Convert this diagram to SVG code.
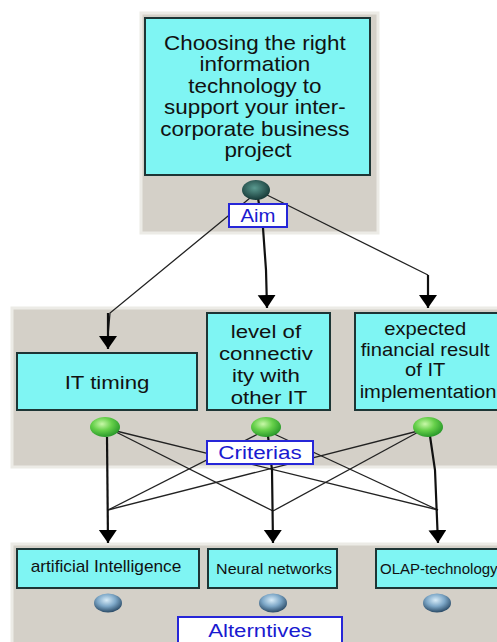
<svg xmlns="http://www.w3.org/2000/svg" width="497" height="642" viewBox="0 0 497 642">
<defs>
<style>
.panel{fill:#d4d0c8;stroke:#ecebe6;stroke-width:3}
.box{fill:#7ff5f3;stroke:#1d3535;stroke-width:2}
.lbl{fill:#ffffff;stroke:#2626d8;stroke-width:2}
.t{font-family:"Liberation Sans",Arial,sans-serif;fill:#111;text-anchor:middle}
.lt{font-family:"Liberation Sans",Arial,sans-serif;fill:#1a1ad0;text-anchor:middle}
.ln{fill:none;stroke:#222;stroke-width:1.3}
.ar{fill:none;stroke:#111;stroke-width:2.2}
</style>
<marker id="ah" markerUnits="userSpaceOnUse" markerWidth="16" markerHeight="20" refX="13" refY="9" orient="auto">
<path d="M0,0 L13,9 L0,18 Z" fill="#000"/>
</marker>
<radialGradient id="gDark" cx="45%" cy="40%" r="60%">
<stop offset="0" stop-color="#5a9a90"/>
<stop offset="1" stop-color="#173a38"/>
</radialGradient>
<radialGradient id="gGreen" cx="40%" cy="35%" r="65%">
<stop offset="0" stop-color="#c8f8a8"/>
<stop offset="0.5" stop-color="#66d04a"/>
<stop offset="1" stop-color="#2a9a2a"/>
</radialGradient>
<radialGradient id="gBlue" cx="45%" cy="35%" r="65%">
<stop offset="0" stop-color="#d8ecf8"/>
<stop offset="0.5" stop-color="#7ea8c8"/>
<stop offset="1" stop-color="#2a4a66"/>
</radialGradient>
</defs>
<rect width="497" height="642" fill="#ffffff"/>

<g id="panels">
<rect class="panel" x="141" y="13" width="237" height="220"/>
<rect class="panel" x="12" y="308" width="490" height="159"/>
<rect class="panel" x="12" y="544" width="490" height="104"/>
</g>

<g id="connectors">
<polyline class="ln" points="250,198 110,313 108,336"/>
<polyline class="ar" points="108,313 108,349" marker-end="url(#ah)"/>
<polyline class="ar" points="258,198 263,228 266,270 267,308" marker-end="url(#ah)"/>
<polyline class="ln" points="265,194 428,275"/>
<polyline class="ar" points="428,275 428,308" marker-end="url(#ah)"/>

<line class="ln" x1="112" y1="430" x2="273" y2="511"/>
<line class="ln" x1="112" y1="430" x2="438" y2="510"/>
<line class="ln" x1="260" y1="433" x2="108" y2="510"/>
<line class="ln" x1="272" y1="433" x2="438" y2="510"/>
<line class="ln" x1="422" y1="430" x2="108" y2="510"/>
<line class="ln" x1="422" y1="430" x2="273" y2="511"/>
<polyline class="ar" points="107,437 108,543" marker-end="url(#ah)"/>
<polyline class="ar" points="268,436 272,470 273,543" marker-end="url(#ah)"/>
<polyline class="ar" points="430,436 435,470 438,543" marker-end="url(#ah)"/>
</g>

<g id="aim">
<rect class="box" x="145" y="18" width="225" height="157"/>
<text class="t" font-size="20" transform="translate(258,0) scale(1.12,1)">
<tspan x="0" y="50">Choosing the right</tspan>
<tspan x="0" y="71.5">information</tspan>
<tspan x="0" y="93">technology to</tspan>
<tspan x="0" y="114.5">support your inter-</tspan>
<tspan x="0" y="136">corporate business</tspan>
<tspan x="0" y="157.5">project</tspan>
</text>
<ellipse cx="256" cy="190" rx="14" ry="10" fill="url(#gDark)"/>
<rect class="lbl" x="229" y="204" width="58" height="23"/>
<text class="lt" font-size="18" transform="translate(258,222) scale(1.13,1)">Aim</text>
</g>

<g id="crit-timing">
<rect class="box" x="17" y="353" width="180" height="57"/>
<text class="t" font-size="19" transform="translate(107,389) scale(1.17,1)">IT timing</text>
<ellipse cx="105" cy="427" rx="15" ry="10" fill="url(#gGreen)"/>
</g>

<g id="crit-connectivity">
<rect class="box" x="207" y="313" width="123" height="97"/>
<text class="t" font-size="19" transform="translate(269,0) scale(1.17,1)">
<tspan x="0" y="338">level of</tspan>
<tspan x="0" y="360">connectiv</tspan>
<tspan x="0" y="382">ity with</tspan>
<tspan x="0" y="404">other IT</tspan>
</text>
<ellipse cx="266" cy="427" rx="15" ry="10" fill="url(#gGreen)"/>
</g>

<g id="crit-financial">
<rect class="box" x="355" y="313" width="150" height="97"/>
<text class="t" font-size="18" transform="translate(428,0) scale(1.12,1)">
<tspan x="0" y="335">expected</tspan>
<tspan x="0" y="356">financial result</tspan>
<tspan x="0" y="376">of IT</tspan>
<tspan x="0" y="398">implementation</tspan>
</text>
<ellipse cx="428" cy="427" rx="15" ry="10" fill="url(#gGreen)"/>
</g>

<g id="criterias-label">
<rect class="lbl" x="207" y="441" width="106" height="23"/>
<text class="lt" font-size="19" transform="translate(260,459) scale(1.18,1)">Criterias</text>
</g>

<g id="alt-ai">
<rect class="box" x="17" y="549" width="182" height="39"/>
<text class="t" font-size="16" transform="translate(106,572) scale(1.08,1)">artificial Intelligence</text>
<ellipse cx="108" cy="603" rx="14" ry="9.5" fill="url(#gBlue)"/>
</g>

<g id="alt-nn">
<rect class="box" x="208" y="549" width="129" height="39"/>
<text class="t" font-size="15" transform="translate(274,574) scale(1.07,1)">Neural networks</text>
<ellipse cx="273" cy="603" rx="14" ry="9.5" fill="url(#gBlue)"/>
</g>

<g id="alt-olap">
<rect class="box" x="376" y="549" width="130" height="39"/>
<text class="t" font-size="15" style="text-anchor:start" x="380" y="574">OLAP-technology</text>
<ellipse cx="437" cy="603" rx="14" ry="9.5" fill="url(#gBlue)"/>
</g>

<g id="alternatives-label">
<rect class="lbl" x="178" y="617" width="164" height="30"/>
<text class="lt" font-size="19" transform="translate(260,637) scale(1.17,1)">Alterntives</text>
</g>
</svg>
